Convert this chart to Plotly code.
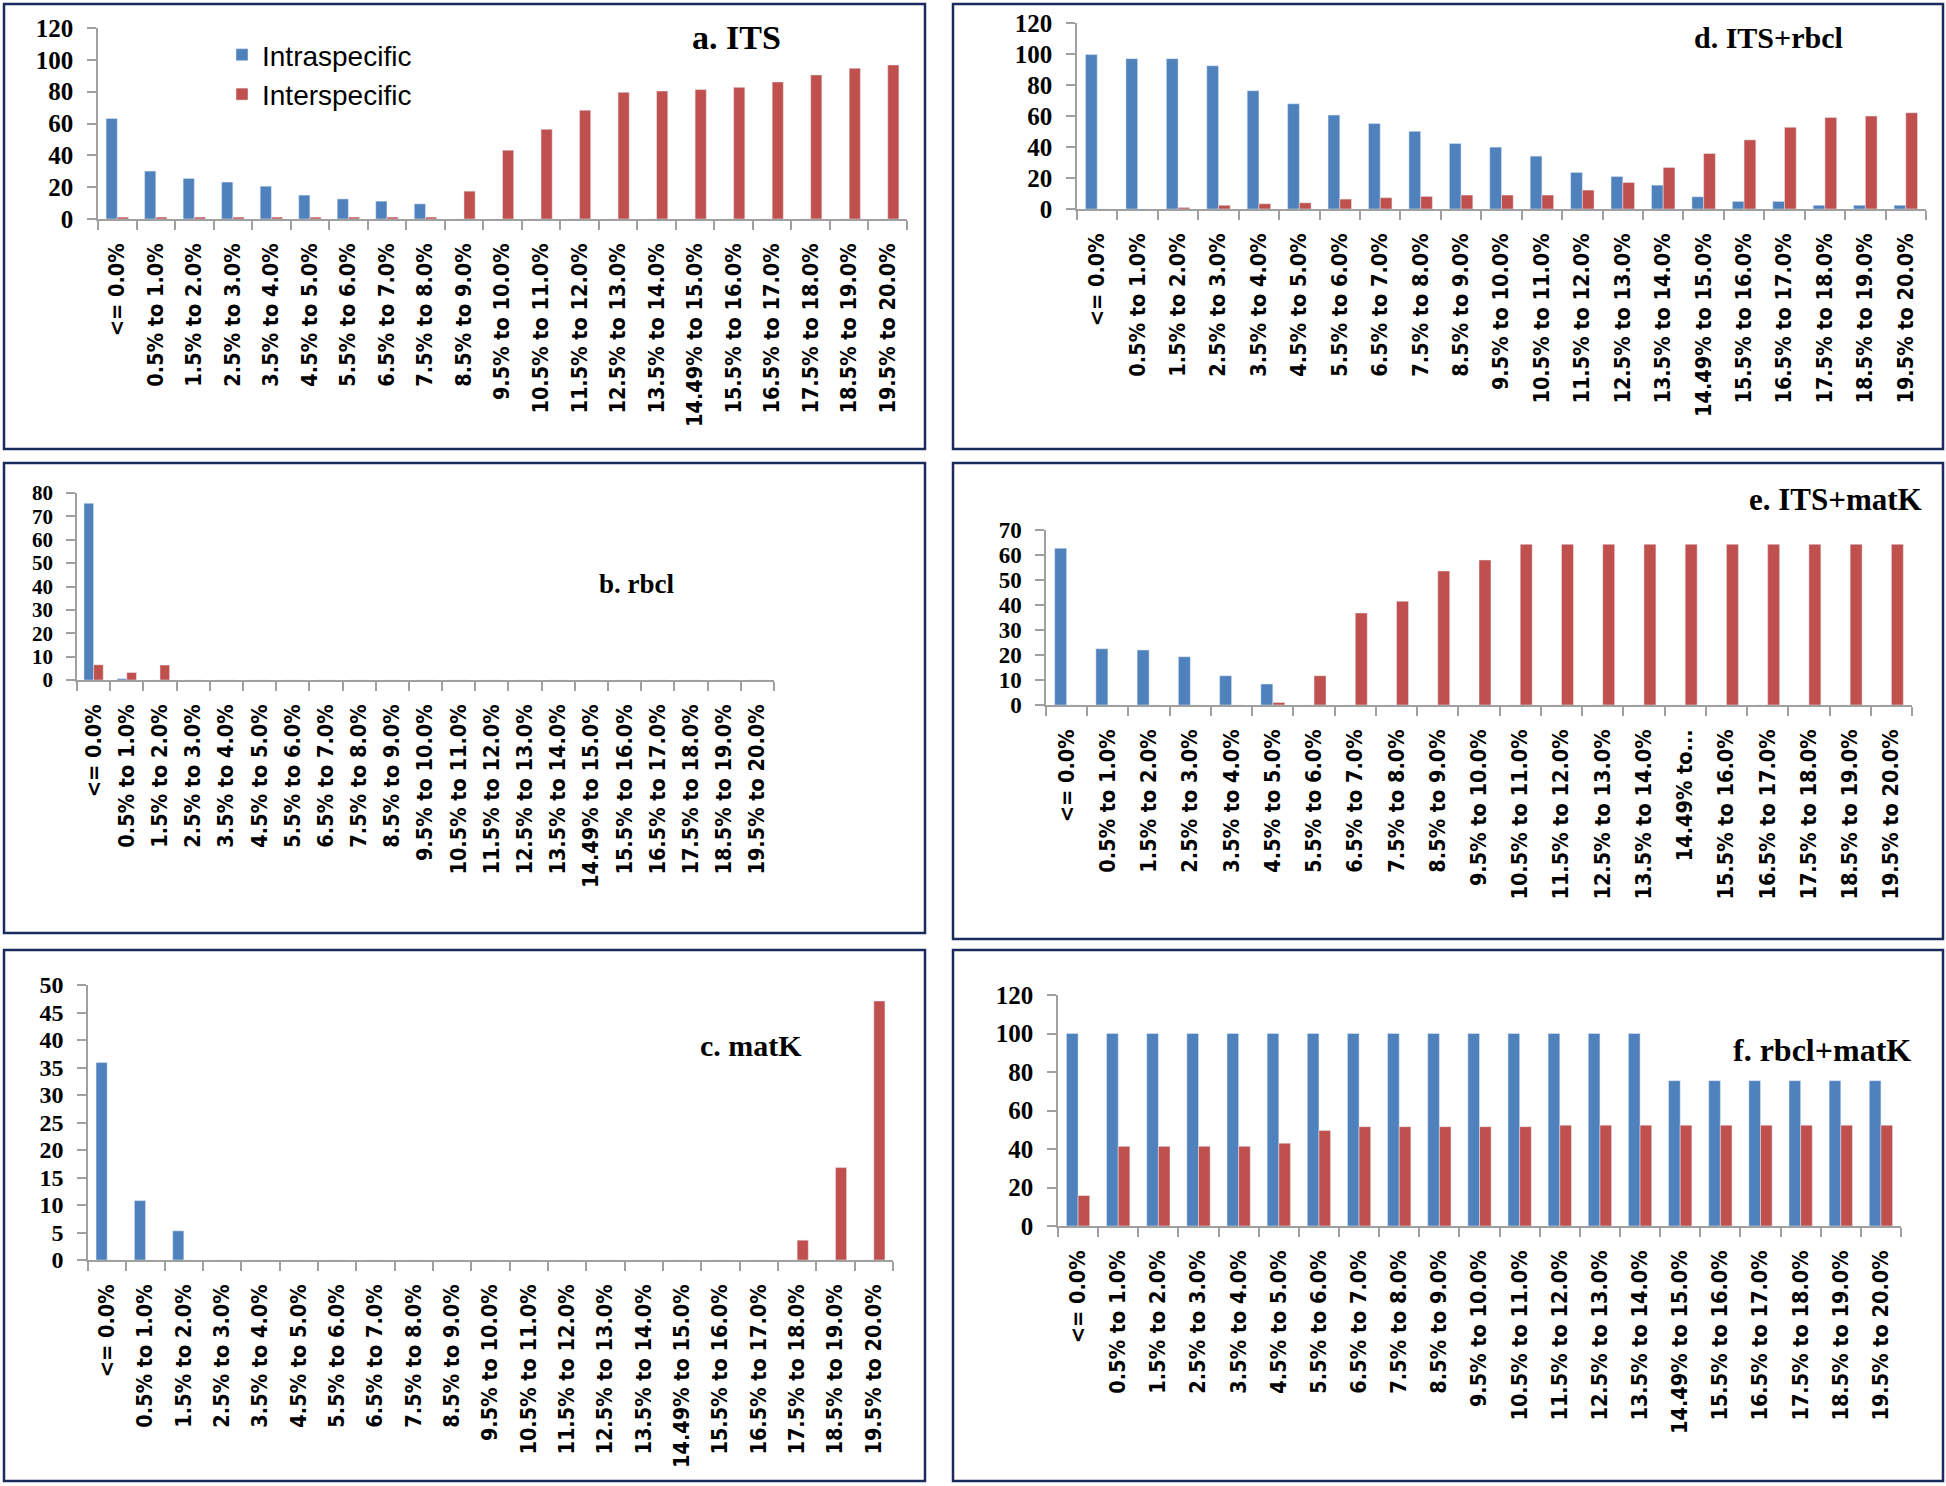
import plotly.graph_objects as go

W, H = 1946, 1486

# ---------------- data ----------------
categories = [
    "<= 0.0%", "0.5% to 1.0%", "1.5% to 2.0%", "2.5% to 3.0%", "3.5% to 4.0%",
    "4.5% to 5.0%", "5.5% to 6.0%", "6.5% to 7.0%", "7.5% to 8.0%", "8.5% to 9.0%",
    "9.5% to 10.0%", "10.5% to 11.0%", "11.5% to 12.0%", "12.5% to 13.0%",
    "13.5% to 14.0%", "14.49% to 15.0%", "15.5% to 16.0%", "16.5% to 17.0%",
    "17.5% to 18.0%", "18.5% to 19.0%", "19.5% to 20.0%",
]
categories_e = [
    "<= 0.0%", "0.5% to 1.0%", "1.5% to 2.0%", "2.5% to 3.0%", "3.5% to 4.0%",
    "4.5% to 5.0%", "5.5% to 6.0%", "6.5% to 7.0%", "7.5% to 8.0%", "8.5% to 9.0%",
    "9.5% to 10.0%", "10.5% to 11.0%", "11.5% to 12.0%", "12.5% to 13.0%",
    "13.5% to 14.0%", "14.49% to...", "15.5% to 16.0%", "16.5% to 17.0%",
    "17.5% to 18.0%", "18.5% to 19.0%", "19.5% to 20.0%",
]

its_intra = [63.2, 30.1, 25.5, 23.2, 20.6, 15.0, 12.6, 11.2, 9.5, 0, 0, 0, 0, 0, 0, 0, 0, 0, 0, 0, 0]
its_inter = [1.2, 1.2, 1.2, 1.2, 1.2, 1.2, 1.2, 1.2, 1.2, 17.5, 43.2, 56.4, 68.4, 79.6, 80.4, 81.3, 82.7, 86.1, 90.5, 94.7, 96.8]

rbcl_intra = [75.6, 0.6, 0, 0, 0, 0, 0, 0, 0, 0, 0, 0, 0, 0, 0, 0, 0, 0, 0, 0, 0]
rbcl_inter = [6.5, 3.2, 6.4, 0, 0, 0, 0, 0, 0, 0, 0, 0, 0, 0, 0, 0, 0, 0, 0, 0, 0]

matk_intra = [35.9, 10.8, 5.3, 0, 0, 0, 0, 0, 0, 0, 0, 0, 0, 0, 0, 0, 0, 0, 0, 0, 0]
matk_inter = [0, 0, 0, 0, 0, 0, 0, 0, 0, 0, 0, 0, 0, 0, 0, 0, 0, 0, 3.6, 16.8, 47.1]

its_rbcl_intra = [99.6, 97.0, 97.0, 92.4, 76.3, 67.9, 60.6, 55.1, 50.1, 42.2, 39.9, 34.1, 23.6, 21.0, 15.4, 7.9, 4.9, 4.9, 2.4, 2.4, 2.4]
its_rbcl_inter = [0, 0, 1.0, 2.4, 3.4, 4.0, 6.4, 7.3, 8.1, 9.0, 9.0, 9.0, 12.2, 17.1, 26.8, 35.8, 44.6, 52.7, 59.1, 60.0, 62.1]

its_matk_intra = [62.7, 22.5, 22.0, 19.3, 11.7, 8.4, 0, 0, 0, 0, 0, 0, 0, 0, 0, 0, 0, 0, 0, 0, 0]
its_matk_inter = [0, 0, 0, 0, 0, 1.0, 11.7, 36.8, 41.5, 53.6, 58.0, 64.3, 64.3, 64.3, 64.3, 64.3, 64.3, 64.3, 64.3, 64.3, 64.3]

rbcl_matk_intra = [100, 100, 100, 100, 100, 100, 100, 100, 100, 100, 100, 100, 100, 100, 100, 75.5, 75.5, 75.5, 75.5, 75.5, 75.5]
rbcl_matk_inter = [15.8, 41.4, 41.4, 41.4, 41.4, 43.0, 49.6, 51.6, 51.6, 51.6, 51.6, 51.6, 52.4, 52.4, 52.4, 52.4, 52.4, 52.4, 52.4, 52.4, 52.4]

series_names = ["Intraspecific", "Interspecific"]
titles = ["a. ITS", "b. rbcl", "c. matK", "d. ITS+rbcl", "e. ITS+matK", "f. rbcl+matK"]

# ---------------- styling / layout ----------------
BLUE = "#4F81BD"
RED = "#C0504D"
AXIS = "#A0A0A0"
BORDER = "#1C2B5E"
XFONT = "DejaVu Sans Condensed, DejaVu Sans"


def px(x):
    return x / W


def py(y):
    return 1 - y / H


# (cats, intra, inter, ymax, dtick, y font size, plot box [x0,x1,ytop,ybottom], border box, title pos, title size)
panels = [
    (categories, its_intra, its_inter, 120, 20, 25, (98, 907, 28, 219), (4, 4, 925, 449), (736, 38), 34),
    (categories, rbcl_intra, rbcl_inter, 80, 10, 21, (77, 774, 493, 680), (4, 463, 925, 933), (637, 584), 27),
    (categories, matk_intra, matk_inter, 50, 5, 24, (88, 893, 985, 1260), (4, 950, 925, 1481), (751, 1045), 30),
    (categories, its_rbcl_intra, its_rbcl_inter, 120, 20, 25, (1077, 1926, 23, 209), (953, 4, 1943, 449), (1768, 38), 30),
    (categories_e, its_matk_intra, its_matk_inter, 70, 10, 23, (1046, 1912, 530, 705), (953, 463, 1943, 939), (1835, 500), 31),
    (categories, rbcl_matk_intra, rbcl_matk_inter, 120, 20, 25, (1058, 1901, 995, 1226), (953, 950, 1943, 1481), (1822, 1050), 32),
]

fig = go.Figure()
shapes = []
annotations = []
layout_axes = {}

for i, (cats, intra, inter, ymax, dtick, yfs, box, border, tpos, tsize) in enumerate(panels):
    n = i + 1
    xa = "x" if n == 1 else f"x{n}"
    ya = "y" if n == 1 else f"y{n}"
    fig.add_trace(go.Bar(x=cats, y=intra, name=series_names[0], marker_color=BLUE,
                         xaxis=xa, yaxis=ya, showlegend=(n == 1), legendgroup="intra"))
    fig.add_trace(go.Bar(x=cats, y=inter, name=series_names[1], marker_color=RED,
                         xaxis=xa, yaxis=ya, showlegend=(n == 1), legendgroup="inter"))
    x0, x1, yt, yb = box
    xkey = "xaxis" if n == 1 else f"xaxis{n}"
    ykey = "yaxis" if n == 1 else f"yaxis{n}"
    layout_axes[xkey] = dict(
        domain=[px(x0), px(x1)], anchor=ya, type="category",
        showline=True, linecolor=AXIS, linewidth=1.5,
        ticks="outside", tickson="boundaries", ticklen=9, tickcolor=AXIS, tickwidth=1.5,
        tickangle=-90, showgrid=False, zeroline=False, automargin=False,
        tickfont=dict(family=XFONT, size=21.5, color="#000000", weight="bold"),
        ticklabelstandoff=14,
    )
    layout_axes[ykey] = dict(
        domain=[py(yb), py(yt)], anchor=xa, range=[0, ymax], dtick=dtick,
        showline=True, linecolor=AXIS, linewidth=1.5,
        ticks="outside", ticklen=9, tickcolor=AXIS, tickwidth=1.5,
        showgrid=False, zeroline=False, automargin=False,
        tickfont=dict(family="Liberation Serif", size=yfs, color="#000000", weight="bold"),
        ticklabelstandoff=9,
    )
    bx0, by0, bx1, by1 = border
    shapes.append(dict(type="rect", xref="paper", yref="paper",
                       x0=px(bx0), x1=px(bx1), y0=py(by1), y1=py(by0),
                       line=dict(color=BORDER, width=2.5), fillcolor="rgba(0,0,0,0)"))
    annotations.append(dict(text=titles[i], xref="paper", yref="paper",
                            x=px(tpos[0]), y=py(tpos[1]), xanchor="center", yanchor="middle",
                            showarrow=False,
                            font=dict(family="Liberation Serif", size=tsize, color="#000000", weight="bold")))

fig.update_layout(
    width=W, height=H, autosize=False,
    margin=dict(l=0, r=0, t=0, b=0, pad=0, autoexpand=False),
    paper_bgcolor="white", plot_bgcolor="white",
    barmode="group", bargap=0.42, bargroupgap=0,
    shapes=shapes, annotations=annotations,
    legend=dict(x=px(222), y=py(30), xanchor="left", yanchor="top",
                bgcolor="rgba(0,0,0,0)", font=dict(family="Liberation Sans", size=28, color="#000000"),
                tracegroupgap=0),
    **layout_axes,
)

fig.write_html(
    "out.html",
    config={"displayModeBar": False},
    post_script="document.body.style.margin='0';document.body.style.overflow='hidden';",
)
